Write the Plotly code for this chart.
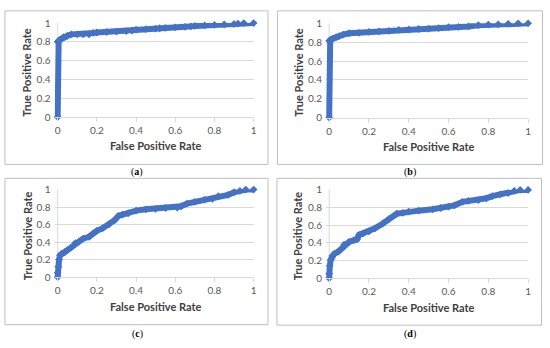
import plotly.graph_objects as go

# ---- data ----
fpr_a = [0, 0, 0.005, 0.01, 0.02, 0.03, 0.05, 0.07, 0.1, 0.13, 0.16, 0.18, 0.2, 0.25, 0.3, 0.35,
         0.38, 0.4, 0.45, 0.5, 0.52, 0.55, 0.6, 0.65, 0.68, 0.7, 0.75, 0.8, 0.85, 0.9, 0.92, 0.95, 1.0]
tpr_a = [0, 0.8, 0.81, 0.82, 0.835, 0.85, 0.865, 0.88, 0.88, 0.88, 0.88, 0.895, 0.9, 0.905, 0.91, 0.915,
         0.92, 0.93, 0.935, 0.94, 0.945, 0.95, 0.955, 0.96, 0.965, 0.97, 0.975, 0.98, 0.985, 0.99, 0.995, 1.0, 1.0]

fpr_b = [0, 0, 0.005, 0.01, 0.02, 0.035, 0.05, 0.07, 0.1, 0.15, 0.2, 0.25, 0.3, 0.35, 0.4, 0.45,
         0.5, 0.55, 0.6, 0.65, 0.7, 0.75, 0.8, 0.85, 0.9, 0.95, 1.0]
tpr_b = [0, 0.815, 0.82, 0.83, 0.84, 0.855, 0.865, 0.88, 0.895, 0.9, 0.91, 0.915, 0.92, 0.93, 0.935, 0.94,
         0.945, 0.95, 0.96, 0.963, 0.968, 0.98, 0.987, 0.99, 0.995, 1.0, 1.0]

fpr_c = [0, 0, 0.003, 0.007, 0.012, 0.02, 0.035, 0.05, 0.07, 0.09, 0.11, 0.13, 0.16, 0.18, 0.2, 0.23,
         0.26, 0.29, 0.31, 0.33, 0.36, 0.4, 0.45, 0.5, 0.55, 0.61, 0.63, 0.66, 0.7, 0.75, 0.79, 0.82,
         0.87, 0.9, 0.93, 0.96, 1.0]
tpr_c = [0, 0.05, 0.12, 0.2, 0.25, 0.27, 0.285, 0.31, 0.34, 0.39, 0.41, 0.44, 0.46, 0.5, 0.53, 0.56,
         0.6, 0.65, 0.7, 0.715, 0.73, 0.76, 0.775, 0.78, 0.79, 0.795, 0.81, 0.84, 0.86, 0.885, 0.895, 0.925,
         0.94, 0.97, 0.985, 1.0, 1.0]

fpr_d = [0, 0, 0.003, 0.008, 0.015, 0.025, 0.045, 0.06, 0.075, 0.1, 0.125, 0.14, 0.15, 0.17, 0.2, 0.23,
         0.27, 0.3, 0.34, 0.37, 0.4, 0.45, 0.52, 0.56, 0.6, 0.63, 0.67, 0.7, 0.75, 0.79, 0.82, 0.86,
         0.9, 0.93, 0.96, 1.0]
tpr_d = [0, 0.05, 0.14, 0.21, 0.25, 0.275, 0.3, 0.33, 0.38, 0.41, 0.43, 0.44, 0.49, 0.505, 0.53, 0.565,
         0.62, 0.67, 0.73, 0.74, 0.755, 0.765, 0.78, 0.795, 0.81, 0.825, 0.865, 0.875, 0.885, 0.905, 0.93, 0.95,
         0.965, 0.99, 1.0, 1.0]

tick_vals = [0, 0.2, 0.4, 0.6, 0.8, 1]
tick_text = ["0", "0.2", "0.4", "0.6", "0.8", "1"]
captions = ["a", "b", "c", "d"]
x_title = "False Positive Rate"
y_title = "True Positive Rate"

W, H = 550, 348
BLUE = "#4472C4"
GRID = "#d9d9d9"
XPAD = 0.016  # small extra room left of x=0 so the thick curve on x=0 is not cut

def px(x):
    return x / W

def py(y):
    return 1 - y / H

# panel geometry in pixels: plot area (x at 0, x at 1, ytop, ybottom), box (l, r, t, b), caption (x, y)
panels = [
    dict(plot=(58, 255, 16.7, 114.3), box=(5, 269.5, 4, 163.5), cap=(137.5, 171.5)),
    dict(plot=(331, 531, 17, 115), box=(279, 545.5, 4, 163.5), cap=(412.5, 171.5)),
    dict(plot=(58, 255, 189.7, 280.7), box=(5, 269.5, 178, 330), cap=(138.5, 339.5)),
    dict(plot=(331, 531, 190, 281.7), box=(278.5, 544.5, 178, 330.5), cap=(412.5, 339.5)),
]
series = [(fpr_a, tpr_a), (fpr_b, tpr_b), (fpr_c, tpr_c), (fpr_d, tpr_d)]

fig = go.Figure()
shapes = []
annotations = []
tick_font = dict(family="Lato, Carlito, sans-serif", size=10, color="#595959")
title_font = dict(family="Lato, Carlito, sans-serif", size=11, color="#404040")

for i, (p, (xs, ys)) in enumerate(zip(panels, series)):
    n = "" if i == 0 else str(i + 1)
    x0, x1, yt, yb = p["plot"]
    unit = x1 - x0
    xl = x0 - XPAD * unit
    fig.add_trace(go.Scatter(
        x=xs, y=ys, mode="lines+markers", xaxis="x" + n, yaxis="y" + n,
        line=dict(color=BLUE, width=6),
        marker=dict(symbol="diamond", size=6, color=BLUE),
        cliponaxis=False, showlegend=False, hoverinfo="skip"))
    fig.layout["xaxis" + n] = dict(
        domain=[px(xl), px(x1)], range=[-XPAD, 1], anchor="y" + n,
        tickvals=tick_vals, ticktext=tick_text, ticks="outside", ticklen=4, tickcolor=GRID,
        showgrid=False, zeroline=False, showline=True, linecolor=GRID, linewidth=1,
        tickfont=tick_font, fixedrange=True)
    fig.layout["yaxis" + n] = dict(
        domain=[py(yb), py(yt)], range=[0, 1], anchor="x" + n,
        tickvals=tick_vals, ticktext=tick_text, ticks="", ticklabelstandoff=3,
        showgrid=True, gridcolor=GRID, gridwidth=1,
        zeroline=False, showline=False,
        tickfont=tick_font, fixedrange=True)
    # vertical axis line at x = 0
    shapes.append(dict(type="line", xref="x" + n, yref="y" + n, x0=0, x1=0, y0=0, y1=1,
                       line=dict(color=GRID, width=1), layer="below"))
    l, r, t, b = p["box"]
    shapes.append(dict(type="rect", xref="paper", yref="paper",
                       x0=px(l), x1=px(r), y0=py(b), y1=py(t),
                       line=dict(color="#bfbfbf", width=1), layer="below"))
    annotations.append(dict(text="<b>" + x_title + "</b>", xref="paper", yref="paper",
                            x=px((x0 + x1) / 2), y=py(yb + 30), xanchor="center", yanchor="middle",
                            showarrow=False, font=title_font))
    annotations.append(dict(text="<b>" + y_title + "</b>", xref="paper", yref="paper",
                            x=px(x0 - 31), y=py((yt + yb) / 2 + 2), xanchor="center", yanchor="middle",
                            textangle=-90, showarrow=False, font=title_font))
    cx, cy = p["cap"]
    annotations.append(dict(text="(<b>" + captions[i] + "</b>)", xref="paper", yref="paper",
                            x=px(cx), y=py(cy), xanchor="center", yanchor="middle", showarrow=False,
                            font=dict(family="Liberation Serif, serif", size=10, color="#000000")))

fig.update_layout(width=W, height=H, margin=dict(l=0, r=0, t=0, b=0),
                  paper_bgcolor="white", plot_bgcolor="white",
                  shapes=shapes, annotations=annotations)

fig.write_html("out.html", config={"displayModeBar": False},
               post_script="document.body.style.margin='0';document.body.style.overflow='hidden';")
